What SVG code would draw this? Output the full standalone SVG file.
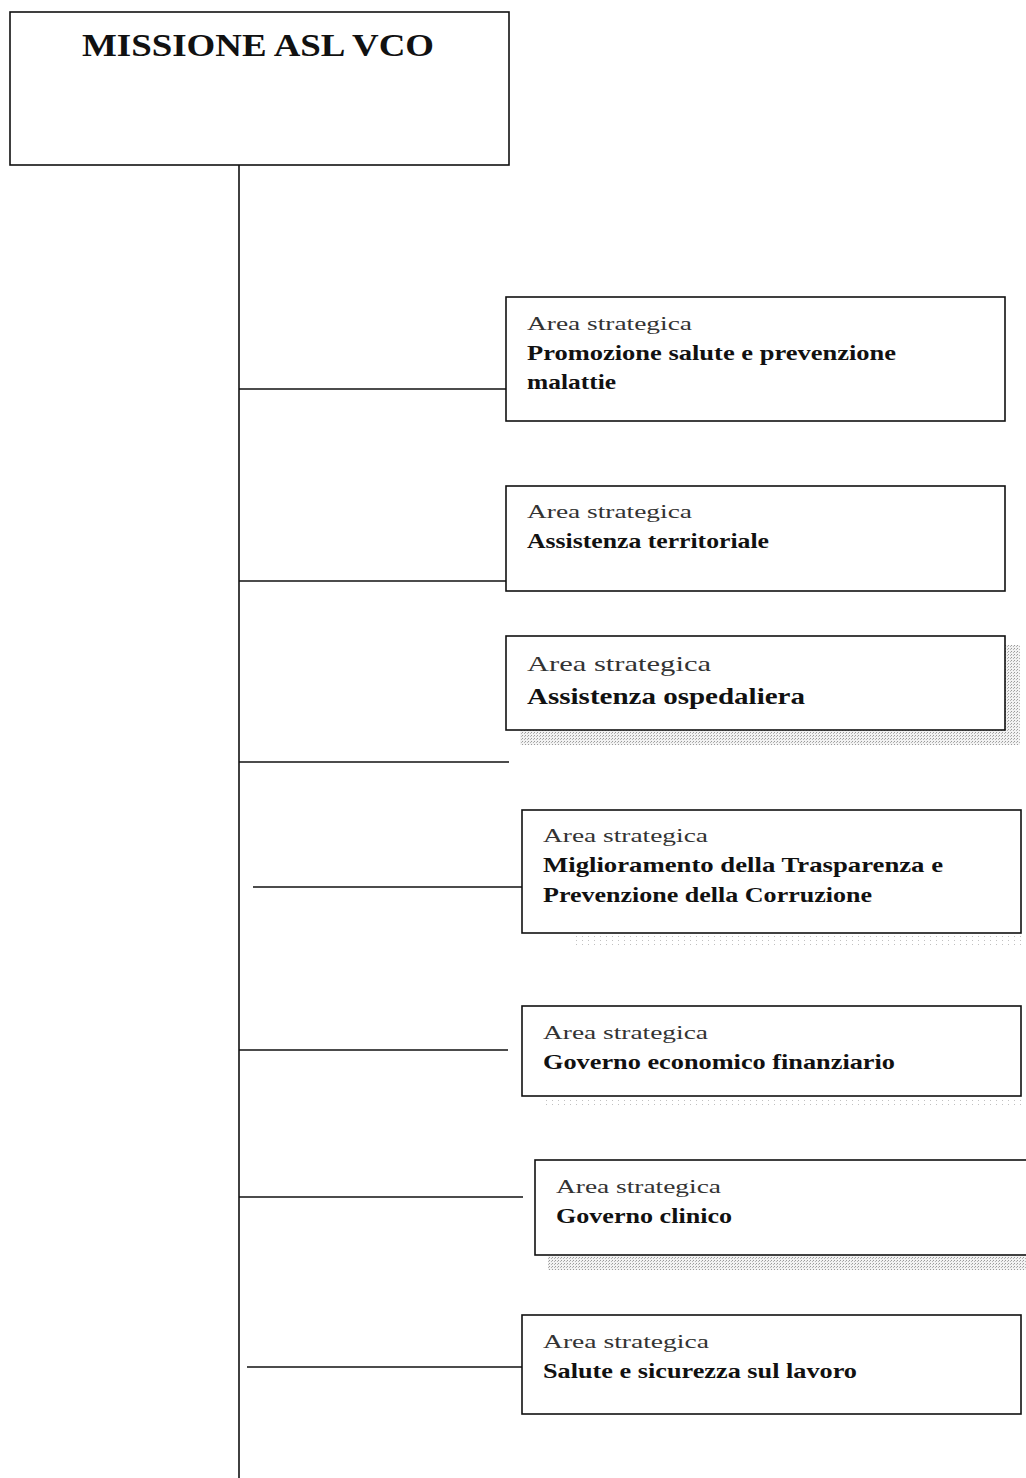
<svg xmlns="http://www.w3.org/2000/svg" width="1026" height="1478" viewBox="0 0 1026 1478">
<style>
.box{fill:#fff;stroke:#111;stroke-width:1.6}
.ln{stroke:#111;stroke-width:1.6;fill:none}
.lbl{font-family:"Liberation Serif",serif;font-size:19px;fill:#333}
.ttl{font-family:"Liberation Serif",serif;font-size:21px;font-weight:bold;fill:#111}
.big{font-family:"Liberation Serif",serif;font-size:31px;font-weight:bold;fill:#111}
.shd{fill:url(#dots)}
.shl{fill:url(#dotsl)}
</style>
<defs>
<pattern id="dots" width="3" height="3" patternUnits="userSpaceOnUse">
<rect width="3" height="3" fill="#f2f2f2"/>
<rect width="1" height="1" fill="#9a9a9a"/>
<rect x="2" y="1" width="1" height="1" fill="#b5b5b5"/>
</pattern>
<pattern id="dotsl" width="6" height="4" patternUnits="userSpaceOnUse">
<rect width="1" height="1" fill="#c0c0c0"/>
</pattern>
</defs>
<g id="connectors">
<line class="ln" x1="239" y1="165" x2="239" y2="1478"/>
<line class="ln" x1="239" y1="389" x2="506" y2="389"/>
<line class="ln" x1="239" y1="581" x2="506" y2="581"/>
<line class="ln" x1="239" y1="762" x2="509" y2="762"/>
<line class="ln" x1="253" y1="887" x2="522" y2="887"/>
<line class="ln" x1="239" y1="1050" x2="508" y2="1050"/>
<line class="ln" x1="239" y1="1197" x2="523" y2="1197"/>
<line class="ln" x1="247" y1="1367" x2="522" y2="1367"/>
</g>
<g id="missione">
<rect class="box" x="10" y="12" width="499" height="153"/>
<text class="big" x="82" y="56" textLength="352" lengthAdjust="spacingAndGlyphs">MISSIONE ASL VCO</text>
</g>
<g id="area1">
<rect class="box" x="506" y="297" width="499" height="124"/>
<text class="lbl" x="527" y="330" textLength="165" lengthAdjust="spacingAndGlyphs">Area strategica</text>
<text class="ttl" x="527" y="360" textLength="369" lengthAdjust="spacingAndGlyphs">Promozione salute e prevenzione</text>
<text class="ttl" x="527" y="389" textLength="89" lengthAdjust="spacingAndGlyphs">malattie</text>
</g>
<g id="area2">
<rect class="box" x="506" y="486" width="499" height="105"/>
<text class="lbl" x="527" y="518" textLength="165" lengthAdjust="spacingAndGlyphs">Area strategica</text>
<text class="ttl" x="527" y="548" textLength="242" lengthAdjust="spacingAndGlyphs">Assistenza territoriale</text>
</g>
<g id="area3">
<rect class="shd" x="520" y="730" width="500" height="15"/>
<rect class="shd" x="1005" y="645" width="15" height="100"/>
<rect class="box" x="506" y="636" width="499" height="94"/>
<text class="lbl" x="527" y="671" style="font-size:22px" textLength="184" lengthAdjust="spacingAndGlyphs">Area strategica</text>
<text class="ttl" x="527" y="704" style="font-size:24px" textLength="278" lengthAdjust="spacingAndGlyphs">Assistenza ospedaliera</text>
</g>
<g id="area4">
<rect class="shl" x="575" y="935" width="446" height="10"/>
<rect class="box" x="522" y="810" width="499" height="123"/>
<text class="lbl" x="543" y="842" textLength="165" lengthAdjust="spacingAndGlyphs">Area strategica</text>
<text class="ttl" x="543" y="872" textLength="400" lengthAdjust="spacingAndGlyphs">Miglioramento  della Trasparenza e</text>
<text class="ttl" x="543" y="902" textLength="329" lengthAdjust="spacingAndGlyphs">Prevenzione della Corruzione</text>
</g>
<g id="area5">
<rect class="shl" x="545" y="1098" width="476" height="10"/>
<rect class="box" x="522" y="1006" width="499" height="90"/>
<text class="lbl" x="543" y="1039" textLength="165" lengthAdjust="spacingAndGlyphs">Area strategica</text>
<text class="ttl" x="543" y="1069" textLength="352" lengthAdjust="spacingAndGlyphs">Governo economico finanziario</text>
</g>
<g id="area6">
<rect class="shd" x="548" y="1256" width="478" height="14"/>
<rect class="box" x="535" y="1160" width="499" height="95"/>
<text class="lbl" x="556" y="1193" textLength="165" lengthAdjust="spacingAndGlyphs">Area strategica</text>
<text class="ttl" x="556" y="1223" textLength="176" lengthAdjust="spacingAndGlyphs">Governo clinico</text>
</g>
<g id="area7">
<rect class="box" x="522" y="1315" width="499" height="99"/>
<text class="lbl" x="543" y="1348" textLength="166" lengthAdjust="spacingAndGlyphs">Area strategica</text>
<text class="ttl" x="543" y="1378" textLength="314" lengthAdjust="spacingAndGlyphs">Salute e sicurezza sul lavoro</text>
</g>
</svg>
